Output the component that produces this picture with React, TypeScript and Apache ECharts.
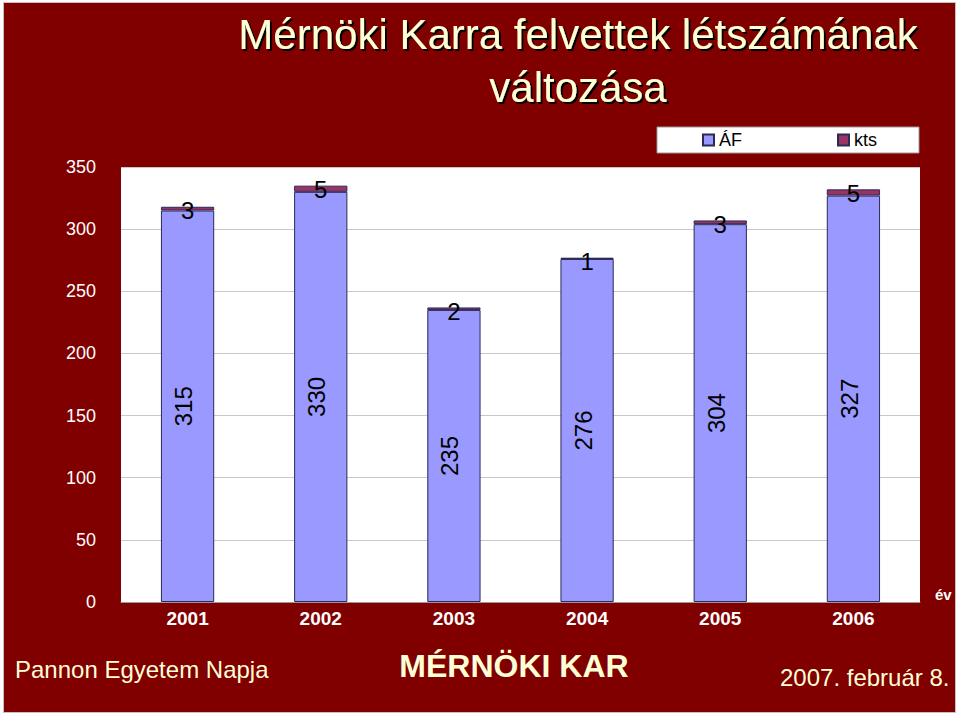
import { useEffect, useRef } from "react";
import * as echarts from "echarts";

const years = ["2001", "2002", "2003", "2004", "2005", "2006"];
const af = [315, 330, 235, 276, 304, 327]; // ÁF
const kts = [3, 5, 2, 1, 3, 5];
const yTicks = { min: 0, max: 350, interval: 50 };

const FONT = "'Liberation Sans', Arial, sans-serif";
const CREAM = "#FFFFD6";

export default function App() {
  const elRef = useRef<HTMLDivElement>(null);

  useEffect(() => {
    if (!elRef.current) return;
    const chart = echarts.init(elRef.current, undefined, { renderer: "svg" });
    const shadow = { textShadowColor: "#000", textShadowOffsetX: 2, textShadowOffsetY: 2, textShadowBlur: 1 };
    chart.setOption({
      animation: false,
      backgroundColor: "transparent",
      textStyle: { fontFamily: FONT },
      legend: {
        data: ["ÁF", "kts"],
        left: 657, top: 127,
        padding: [4, 42, 4, 45],
        itemGap: 95,
        itemWidth: 11, itemHeight: 11,
        icon: "rect",
        backgroundColor: "#fff",
        borderColor: "#999", borderWidth: 1,
        textStyle: { color: "#000", fontSize: 18, fontFamily: FONT },
      },
      grid: { left: 121, right: 40, top: 167, bottom: 114, show: true, backgroundColor: "#fff", borderWidth: 0 },
      xAxis: {
        type: "category", data: years,
        name: "év", nameLocation: "end", nameGap: 15,
        nameTextStyle: { color: "#fff", fontSize: 15, fontWeight: "bold", align: "left", verticalAlign: "bottom", fontFamily: FONT },
        axisLine: { lineStyle: { color: "#999" } },
        axisTick: { show: false },
        axisLabel: { color: "#fff", fontSize: 19, fontWeight: "bold", margin: 7, fontFamily: FONT },
      },
      yAxis: {
        type: "value", ...yTicks,
        axisLine: { show: false }, axisTick: { show: false },
        axisLabel: { color: "#fff", fontSize: 18, margin: 25, fontFamily: FONT },
        splitLine: { lineStyle: { color: "#c8c8c8" } },
      },
      series: [
        {
          name: "ÁF", type: "bar", stack: "a", data: af, barWidth: "40%",
          itemStyle: { color: "#9999FF", borderColor: "#2a2a55", borderWidth: 1 },
          label: { show: true, position: "inside", rotate: 90, offset: [0, -4], color: "#000", fontSize: 24, fontFamily: FONT },
        },
        {
          name: "kts", type: "bar", stack: "a", data: kts, barWidth: "40%",
          itemStyle: { color: "#993366", borderColor: "#2a2a55", borderWidth: 1 },
          label: { show: true, position: "top", offset: [0, 21], color: "#000", fontSize: 24, fontFamily: FONT },
        },
      ],
      graphic: [
        { type: "text", x: 578, y: 55, style: { text: "Mérnöki Karra felvettek létszámának", fill: CREAM, font: `42px ${FONT}`, textAlign: "center", textVerticalAlign: "bottom", ...shadow } },
        { type: "text", x: 578, y: 108, style: { text: "változása", fill: CREAM, font: `42px ${FONT}`, textAlign: "center", textVerticalAlign: "bottom", ...shadow } },
        { type: "text", x: 15, y: 669, style: { text: "Pannon Egyetem Napja", fill: CREAM, font: `24px ${FONT}`, textVerticalAlign: "middle" } },
        { type: "text", x: 514, y: 666, style: { text: "MÉRNÖKI KAR", fill: CREAM, font: `bold 32px ${FONT}`, textAlign: "center", textVerticalAlign: "middle" } },
        { type: "text", x: 780, y: 677, style: { text: "2007. február 8.", fill: CREAM, font: `24px ${FONT}`, textVerticalAlign: "middle" } },
      ],
    });
    return () => chart.dispose();
  }, []);

  return (
    <div style={{ position: "fixed", left: 0, top: 0, width: 960, height: 716, background: "#fff" }}>
      <div style={{ position: "absolute", left: 3, top: 2, width: 951, height: 709, background: "#800000", border: "1px solid #c8c0c0" }} />
      <div ref={elRef} style={{ position: "absolute", left: 0, top: 0, width: 960, height: 716 }} />
    </div>
  );
}
